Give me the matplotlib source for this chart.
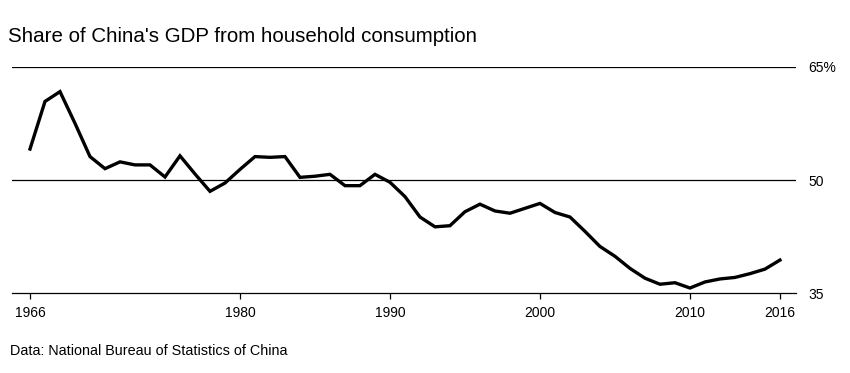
import numpy as np
import matplotlib.pyplot as plt

plt.rcParams['font.family'] = ['Liberation Sans', 'DejaVu Sans']

years = list(range(1966, 2017))
share = [54.1, 60.4, 61.7, 57.5, 53.1, 51.5, 52.4, 52.0, 52.0, 50.4,
         53.2, 50.8, 48.5, 49.6, 51.4, 53.1, 53.0, 53.1, 50.35, 50.5,
         50.75, 49.25, 49.25, 50.75, 49.7, 47.8, 45.1, 43.8, 43.95, 45.8,
         46.8, 45.9, 45.6, 46.25, 46.9, 45.7, 45.1, 43.2, 41.2, 39.9,
         38.3, 37.0, 36.2, 36.4, 35.7, 36.5, 36.9, 37.1, 37.6, 38.2,
         39.4]
xticks = [1966, 1980, 1990, 2000, 2010, 2016]
yticks = [35, 50, 65]
ylabels = ['35', '50', '65%']

W, H = 850, 373
fig = plt.figure(figsize=(W / 100, H / 100), dpi=100)
ax = fig.add_axes([12 / W, (H - 293.3) / H, (796 - 12) / W, (293.3 - 66.7) / H])

ax.plot(years, share, color='black', lw=2.4, solid_joinstyle='miter', zorder=3)
ax.set_xlim(1964.8, 2017.07)
ax.set_ylim(35, 65)

for v in yticks[1:]:
    ax.axhline(v, color='black', lw=0.9, zorder=1)

for s in ['top', 'left', 'right']:
    ax.spines[s].set_visible(False)
ax.spines['bottom'].set_linewidth(0.9)

ax.set_xticks(xticks)
ax.set_xticklabels([str(x) for x in xticks])
ax.tick_params(axis='x', direction='out', length=4, width=0.9, pad=5,
               labelsize=10, colors='black')
ax.yaxis.tick_right()
ax.set_yticks(yticks)
ax.set_yticklabels(ylabels)
ax.tick_params(axis='y', length=0, pad=9, labelsize=10)

fig.text(8 / W, 1 - 42 / H, "Share of China's GDP from household consumption",
         fontsize=14.8, va='baseline', ha='left')
fig.text(10 / W, 1 - 355 / H, "Data: National Bureau of Statistics of China",
         fontsize=10.4, va='baseline', ha='left')

fig.savefig('out.png', dpi=100)
